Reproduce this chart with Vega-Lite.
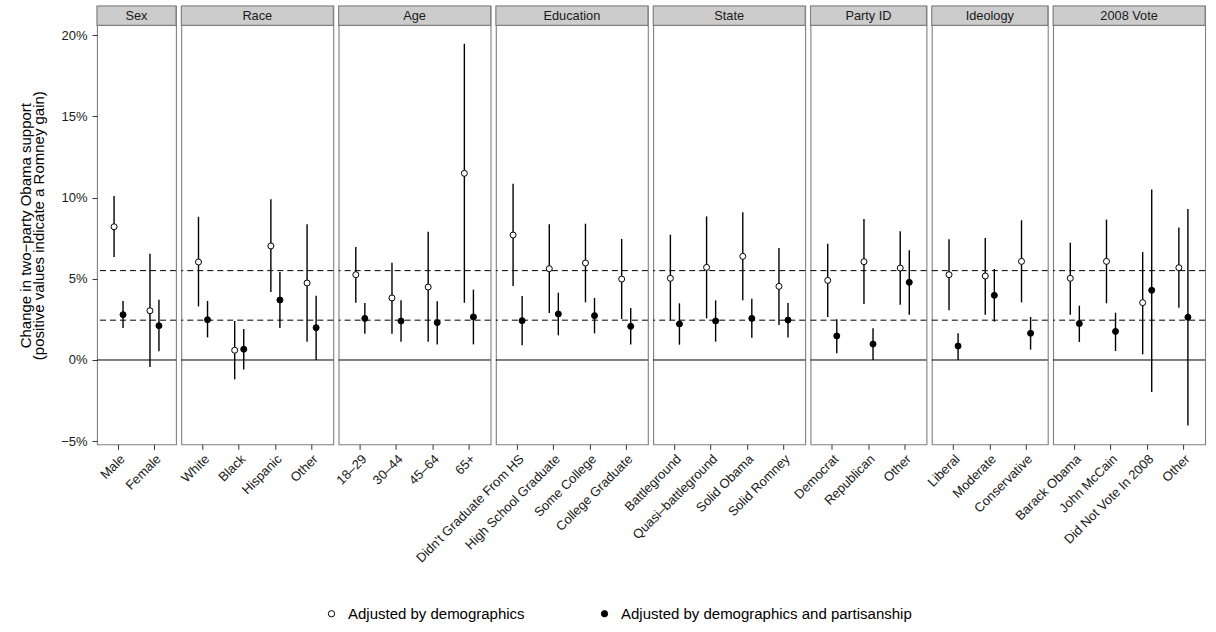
{
  "$schema": "https://vega.github.io/schema/vega-lite/v6.json",
  "background": "white",
  "padding": {"left": 17, "top": 4, "right": 5, "bottom": 5},
  "config": {
    "font": "Liberation Sans",
    "view": {"stroke": "#7f7f7f", "strokeWidth": 1.1},
    "rule": {"color": "black"},
    "point": {"shape": "circle", "filled": true, "size": 36, "stroke": "black", "strokeWidth": 1, "opacity": 1},
    "text": {"fontSize": 12.8, "color": "#1a1a1a"},
    "axis": {"grid": false, "domain": false, "tickColor": "#333333", "tickSize": 5, "tickWidth": 1, "labelColor": "#1a1a1a", "labelFontSize": 13, "labelPadding": 5, "titleFontSize": 15, "titleFontWeight": "normal", "titleColor": "black"},
    "axisX": {"labelAngle": -45, "labelAlign": "right", "labelBaseline": "top", "labelLimit": 0, "labelPadding": 3},
    "legend": {"labelFontSize": 15, "labelColor": "black", "labelLimit": 0}
  },
  "datasets": {
    "d": [
      {"p": "Sex", "c": "Male", "t": "Adjusted by demographics", "e": 8.2, "lo": 6.34, "hi": 10.09},
      {"p": "Sex", "c": "Male", "t": "Adjusted by demographics and partisanship", "e": 2.79, "lo": 1.97, "hi": 3.63},
      {"p": "Sex", "c": "Female", "t": "Adjusted by demographics", "e": 3.03, "lo": -0.43, "hi": 6.54},
      {"p": "Sex", "c": "Female", "t": "Adjusted by demographics and partisanship", "e": 2.11, "lo": 0.53, "hi": 3.71},
      {"p": "Race", "c": "White", "t": "Adjusted by demographics", "e": 6.03, "lo": 3.3, "hi": 8.82},
      {"p": "Race", "c": "White", "t": "Adjusted by demographics and partisanship", "e": 2.48, "lo": 1.39, "hi": 3.63},
      {"p": "Race", "c": "Black", "t": "Adjusted by demographics", "e": 0.6, "lo": -1.19, "hi": 2.4},
      {"p": "Race", "c": "Black", "t": "Adjusted by demographics and partisanship", "e": 0.66, "lo": -0.59, "hi": 1.91},
      {"p": "Race", "c": "Hispanic", "t": "Adjusted by demographics", "e": 7.02, "lo": 4.18, "hi": 9.9},
      {"p": "Race", "c": "Hispanic", "t": "Adjusted by demographics and partisanship", "e": 3.69, "lo": 1.97, "hi": 5.42},
      {"p": "Race", "c": "Other", "t": "Adjusted by demographics", "e": 4.74, "lo": 1.13, "hi": 8.35},
      {"p": "Race", "c": "Other", "t": "Adjusted by demographics and partisanship", "e": 1.99, "lo": 0.0, "hi": 3.96},
      {"p": "Age", "c": "18–29", "t": "Adjusted by demographics", "e": 5.25, "lo": 3.53, "hi": 6.95},
      {"p": "Age", "c": "18–29", "t": "Adjusted by demographics and partisanship", "e": 2.56, "lo": 1.62, "hi": 3.51},
      {"p": "Age", "c": "30–44", "t": "Adjusted by demographics", "e": 3.82, "lo": 1.62, "hi": 5.99},
      {"p": "Age", "c": "30–44", "t": "Adjusted by demographics and partisanship", "e": 2.4, "lo": 1.13, "hi": 3.67},
      {"p": "Age", "c": "45–64", "t": "Adjusted by demographics", "e": 4.49, "lo": 1.13, "hi": 7.9},
      {"p": "Age", "c": "45–64", "t": "Adjusted by demographics and partisanship", "e": 2.3, "lo": 0.96, "hi": 3.61},
      {"p": "Age", "c": "65+", "t": "Adjusted by demographics", "e": 11.49, "lo": 3.53, "hi": 19.46},
      {"p": "Age", "c": "65+", "t": "Adjusted by demographics and partisanship", "e": 2.65, "lo": 0.96, "hi": 4.33},
      {"p": "Education", "c": "Didn't Graduate From HS", "t": "Adjusted by demographics", "e": 7.69, "lo": 4.55, "hi": 10.85},
      {"p": "Education", "c": "Didn't Graduate From HS", "t": "Adjusted by demographics and partisanship", "e": 2.42, "lo": 0.9, "hi": 3.94},
      {"p": "Education", "c": "High School Graduate", "t": "Adjusted by demographics", "e": 5.62, "lo": 2.89, "hi": 8.35},
      {"p": "Education", "c": "High School Graduate", "t": "Adjusted by demographics and partisanship", "e": 2.83, "lo": 1.52, "hi": 4.14},
      {"p": "Education", "c": "Some College", "t": "Adjusted by demographics", "e": 5.97, "lo": 3.55, "hi": 8.39},
      {"p": "Education", "c": "Some College", "t": "Adjusted by demographics and partisanship", "e": 2.73, "lo": 1.64, "hi": 3.82},
      {"p": "Education", "c": "College Graduate", "t": "Adjusted by demographics", "e": 4.98, "lo": 2.52, "hi": 7.45},
      {"p": "Education", "c": "College Graduate", "t": "Adjusted by demographics and partisanship", "e": 2.07, "lo": 0.96, "hi": 3.2},
      {"p": "State", "c": "Battleground", "t": "Adjusted by demographics", "e": 5.03, "lo": 2.44, "hi": 7.71},
      {"p": "State", "c": "Battleground", "t": "Adjusted by demographics and partisanship", "e": 2.22, "lo": 0.94, "hi": 3.49},
      {"p": "State", "c": "Quasi–battleground", "t": "Adjusted by demographics", "e": 5.7, "lo": 2.56, "hi": 8.84},
      {"p": "State", "c": "Quasi–battleground", "t": "Adjusted by demographics and partisanship", "e": 2.4, "lo": 1.13, "hi": 3.67},
      {"p": "State", "c": "Solid Obama", "t": "Adjusted by demographics", "e": 6.38, "lo": 3.67, "hi": 9.09},
      {"p": "State", "c": "Solid Obama", "t": "Adjusted by demographics and partisanship", "e": 2.56, "lo": 1.37, "hi": 3.77},
      {"p": "State", "c": "Solid Romney", "t": "Adjusted by demographics", "e": 4.53, "lo": 2.15, "hi": 6.89},
      {"p": "State", "c": "Solid Romney", "t": "Adjusted by demographics and partisanship", "e": 2.46, "lo": 1.39, "hi": 3.51},
      {"p": "Party ID", "c": "Democrat", "t": "Adjusted by demographics", "e": 4.9, "lo": 2.65, "hi": 7.16},
      {"p": "Party ID", "c": "Democrat", "t": "Adjusted by demographics and partisanship", "e": 1.48, "lo": 0.41, "hi": 2.5},
      {"p": "Party ID", "c": "Republican", "t": "Adjusted by demographics", "e": 6.05, "lo": 3.45, "hi": 8.68},
      {"p": "Party ID", "c": "Republican", "t": "Adjusted by demographics and partisanship", "e": 0.98, "lo": 0.0, "hi": 1.95},
      {"p": "Party ID", "c": "Other", "t": "Adjusted by demographics", "e": 5.66, "lo": 3.4, "hi": 7.92},
      {"p": "Party ID", "c": "Other", "t": "Adjusted by demographics and partisanship", "e": 4.78, "lo": 2.79, "hi": 6.75},
      {"p": "Ideology", "c": "Liberal", "t": "Adjusted by demographics", "e": 5.25, "lo": 3.06, "hi": 7.43},
      {"p": "Ideology", "c": "Liberal", "t": "Adjusted by demographics and partisanship", "e": 0.86, "lo": 0.0, "hi": 1.64},
      {"p": "Ideology", "c": "Moderate", "t": "Adjusted by demographics", "e": 5.17, "lo": 2.79, "hi": 7.51},
      {"p": "Ideology", "c": "Moderate", "t": "Adjusted by demographics and partisanship", "e": 3.98, "lo": 2.36, "hi": 5.6},
      {"p": "Ideology", "c": "Conservative", "t": "Adjusted by demographics", "e": 6.07, "lo": 3.55, "hi": 8.6},
      {"p": "Ideology", "c": "Conservative", "t": "Adjusted by demographics and partisanship", "e": 1.64, "lo": 0.64, "hi": 2.65},
      {"p": "2008 Vote", "c": "Barack Obama", "t": "Adjusted by demographics", "e": 5.03, "lo": 2.79, "hi": 7.22},
      {"p": "2008 Vote", "c": "Barack Obama", "t": "Adjusted by demographics and partisanship", "e": 2.24, "lo": 1.11, "hi": 3.34},
      {"p": "2008 Vote", "c": "John McCain", "t": "Adjusted by demographics", "e": 6.07, "lo": 3.49, "hi": 8.64},
      {"p": "2008 Vote", "c": "John McCain", "t": "Adjusted by demographics and partisanship", "e": 1.76, "lo": 0.55, "hi": 2.91},
      {"p": "2008 Vote", "c": "Did Not Vote In 2008", "t": "Adjusted by demographics", "e": 3.53, "lo": 0.35, "hi": 6.65},
      {"p": "2008 Vote", "c": "Did Not Vote In 2008", "t": "Adjusted by demographics and partisanship", "e": 4.29, "lo": -1.97, "hi": 10.5},
      {"p": "2008 Vote", "c": "Other", "t": "Adjusted by demographics", "e": 5.68, "lo": 3.22, "hi": 8.16},
      {"p": "2008 Vote", "c": "Other", "t": "Adjusted by demographics and partisanship", "e": 2.63, "lo": -4.04, "hi": 9.29}
    ]
  },
  "bounds": "flush",
  "spacing": 5.3,
  "resolve": {"scale": {"x": "independent", "xOffset": "independent", "y": "independent", "fill": "shared"}, "legend": {"fill": "shared"}},
  "hconcat": [
    {"width": 79, "height": 438.3, "layer": [
      {"data": {"values": [{}]}, "mark": {"type": "rect", "fill": "#cccccc", "stroke": "#7f7f7f", "strokeWidth": 1.1}, "encoding": {"y": {"datum": 20.6, "type": "quantitative", "scale": {"domain": [-5.19, 21.79], "nice": false, "zero": false}, "axis": {"values": [-5, 0, 5, 10, 15, 20], "labelExpr": "(datum.value < 0 ? '−' + abs(datum.value) : datum.value) + '%'", "title": ["Change in two−party Obama support", "(positive values indicate a Romney gain)"], "titleLineHeight": 13.5, "titlePadding": 14}}, "y2": {"datum": 21.79}}},
      {"data": {"values": [{}]}, "mark": {"type": "text"}, "encoding": {"y": {"datum": 21.195, "type": "quantitative", "scale": {"domain": [-5.19, 21.79], "nice": false, "zero": false}, "axis": {"values": [-5, 0, 5, 10, 15, 20], "labelExpr": "(datum.value < 0 ? '−' + abs(datum.value) : datum.value) + '%'", "title": ["Change in two−party Obama support", "(positive values indicate a Romney gain)"], "titleLineHeight": 13.5, "titlePadding": 14}}, "text": {"value": "Sex"}}},
      {"data": {"values": [{}]}, "mark": {"type": "rule", "strokeWidth": 1}, "encoding": {"y": {"datum": 0, "type": "quantitative", "scale": {"domain": [-5.19, 21.79], "nice": false, "zero": false}, "axis": {"values": [-5, 0, 5, 10, 15, 20], "labelExpr": "(datum.value < 0 ? '−' + abs(datum.value) : datum.value) + '%'", "title": ["Change in two−party Obama support", "(positive values indicate a Romney gain)"], "titleLineHeight": 13.5, "titlePadding": 14}}}},
      {"data": {"values": [{}]}, "mark": {"type": "rule", "strokeWidth": 1, "strokeDash": [6, 4]}, "encoding": {"y": {"datum": 5.5, "type": "quantitative", "scale": {"domain": [-5.19, 21.79], "nice": false, "zero": false}, "axis": {"values": [-5, 0, 5, 10, 15, 20], "labelExpr": "(datum.value < 0 ? '−' + abs(datum.value) : datum.value) + '%'", "title": ["Change in two−party Obama support", "(positive values indicate a Romney gain)"], "titleLineHeight": 13.5, "titlePadding": 14}}}},
      {"data": {"values": [{}]}, "mark": {"type": "rule", "strokeWidth": 1, "strokeDash": [6, 4]}, "encoding": {"y": {"datum": 2.45, "type": "quantitative", "scale": {"domain": [-5.19, 21.79], "nice": false, "zero": false}, "axis": {"values": [-5, 0, 5, 10, 15, 20], "labelExpr": "(datum.value < 0 ? '−' + abs(datum.value) : datum.value) + '%'", "title": ["Change in two−party Obama support", "(positive values indicate a Romney gain)"], "titleLineHeight": 13.5, "titlePadding": 14}}}},
      {"data": {"name": "d"}, "transform": [{"filter": "datum.p === 'Sex'"}], "mark": {"type": "rule", "strokeWidth": 1.4},
       "encoding": {
         "x": {"field": "c", "type": "nominal", "sort": ["Male", "Female"], "scale": {"paddingInner": 0, "paddingOuter": 0.1}, "axis": {"title": null}},
         "xOffset": {"field": "t", "type": "nominal", "scale": {"paddingInner": 0, "paddingOuter": 1.03}},
         "y": {"field": "lo", "type": "quantitative", "scale": {"domain": [-5.19, 21.79], "nice": false, "zero": false}, "axis": {"values": [-5, 0, 5, 10, 15, 20], "labelExpr": "(datum.value < 0 ? '−' + abs(datum.value) : datum.value) + '%'", "title": ["Change in two−party Obama support", "(positive values indicate a Romney gain)"], "titleLineHeight": 13.5, "titlePadding": 14}},
         "y2": {"field": "hi"}}},
      {"data": {"name": "d"}, "transform": [{"filter": "datum.p === 'Sex'"}], "mark": {"type": "point"},
       "encoding": {
         "x": {"field": "c", "type": "nominal", "sort": ["Male", "Female"], "scale": {"paddingInner": 0, "paddingOuter": 0.1}, "axis": {"title": null}},
         "xOffset": {"field": "t", "type": "nominal", "scale": {"paddingInner": 0, "paddingOuter": 1.03}},
         "y": {"field": "e", "type": "quantitative", "scale": {"domain": [-5.19, 21.79], "nice": false, "zero": false}, "axis": {"values": [-5, 0, 5, 10, 15, 20], "labelExpr": "(datum.value < 0 ? '−' + abs(datum.value) : datum.value) + '%'", "title": ["Change in two−party Obama support", "(positive values indicate a Romney gain)"], "titleLineHeight": 13.5, "titlePadding": 14}},
         "fill": {"field": "t", "type": "nominal", "scale": {"domain": ["Adjusted by demographics", "Adjusted by demographics and partisanship"], "range": ["white", "black"]}, "legend": {"title": null, "orient": "none", "legendX": 227, "legendY": 600, "direction": "horizontal", "symbolType": "circle", "symbolSize": 40, "symbolStrokeColor": "black", "symbolStrokeWidth": 1, "columnPadding": 72, "labelOffset": 9}}}}
    ]},
    {"width": 152, "height": 438.3, "layer": [
      {"data": {"values": [{}]}, "mark": {"type": "rect", "fill": "#cccccc", "stroke": "#7f7f7f", "strokeWidth": 1.1}, "encoding": {"y": {"datum": 20.6, "type": "quantitative", "scale": {"domain": [-5.19, 21.79], "nice": false, "zero": false}, "axis": null}, "y2": {"datum": 21.79}}},
      {"data": {"values": [{}]}, "mark": {"type": "text"}, "encoding": {"y": {"datum": 21.195, "type": "quantitative", "scale": {"domain": [-5.19, 21.79], "nice": false, "zero": false}, "axis": null}, "text": {"value": "Race"}}},
      {"data": {"values": [{}]}, "mark": {"type": "rule", "strokeWidth": 1}, "encoding": {"y": {"datum": 0, "type": "quantitative", "scale": {"domain": [-5.19, 21.79], "nice": false, "zero": false}, "axis": null}}},
      {"data": {"values": [{}]}, "mark": {"type": "rule", "strokeWidth": 1, "strokeDash": [6, 4]}, "encoding": {"y": {"datum": 5.5, "type": "quantitative", "scale": {"domain": [-5.19, 21.79], "nice": false, "zero": false}, "axis": null}}},
      {"data": {"values": [{}]}, "mark": {"type": "rule", "strokeWidth": 1, "strokeDash": [6, 4]}, "encoding": {"y": {"datum": 2.45, "type": "quantitative", "scale": {"domain": [-5.19, 21.79], "nice": false, "zero": false}, "axis": null}}},
      {"data": {"name": "d"}, "transform": [{"filter": "datum.p === 'Race'"}], "mark": {"type": "rule", "strokeWidth": 1.4},
       "encoding": {
         "x": {"field": "c", "type": "nominal", "sort": ["White", "Black", "Hispanic", "Other"], "scale": {"paddingInner": 0, "paddingOuter": 0.1}, "axis": {"title": null}},
         "xOffset": {"field": "t", "type": "nominal", "scale": {"paddingInner": 0, "paddingOuter": 1.03}},
         "y": {"field": "lo", "type": "quantitative", "scale": {"domain": [-5.19, 21.79], "nice": false, "zero": false}, "axis": null},
         "y2": {"field": "hi"}}},
      {"data": {"name": "d"}, "transform": [{"filter": "datum.p === 'Race'"}], "mark": {"type": "point"},
       "encoding": {
         "x": {"field": "c", "type": "nominal", "sort": ["White", "Black", "Hispanic", "Other"], "scale": {"paddingInner": 0, "paddingOuter": 0.1}, "axis": {"title": null}},
         "xOffset": {"field": "t", "type": "nominal", "scale": {"paddingInner": 0, "paddingOuter": 1.03}},
         "y": {"field": "e", "type": "quantitative", "scale": {"domain": [-5.19, 21.79], "nice": false, "zero": false}, "axis": null},
         "fill": {"field": "t", "type": "nominal", "scale": {"domain": ["Adjusted by demographics", "Adjusted by demographics and partisanship"], "range": ["white", "black"]}, "legend": {"title": null, "orient": "none", "legendX": 227, "legendY": 600, "direction": "horizontal", "symbolType": "circle", "symbolSize": 40, "symbolStrokeColor": "black", "symbolStrokeWidth": 1, "columnPadding": 72, "labelOffset": 9}}}}
    ]},
    {"width": 152, "height": 438.3, "layer": [
      {"data": {"values": [{}]}, "mark": {"type": "rect", "fill": "#cccccc", "stroke": "#7f7f7f", "strokeWidth": 1.1}, "encoding": {"y": {"datum": 20.6, "type": "quantitative", "scale": {"domain": [-5.19, 21.79], "nice": false, "zero": false}, "axis": null}, "y2": {"datum": 21.79}}},
      {"data": {"values": [{}]}, "mark": {"type": "text"}, "encoding": {"y": {"datum": 21.195, "type": "quantitative", "scale": {"domain": [-5.19, 21.79], "nice": false, "zero": false}, "axis": null}, "text": {"value": "Age"}}},
      {"data": {"values": [{}]}, "mark": {"type": "rule", "strokeWidth": 1}, "encoding": {"y": {"datum": 0, "type": "quantitative", "scale": {"domain": [-5.19, 21.79], "nice": false, "zero": false}, "axis": null}}},
      {"data": {"values": [{}]}, "mark": {"type": "rule", "strokeWidth": 1, "strokeDash": [6, 4]}, "encoding": {"y": {"datum": 5.5, "type": "quantitative", "scale": {"domain": [-5.19, 21.79], "nice": false, "zero": false}, "axis": null}}},
      {"data": {"values": [{}]}, "mark": {"type": "rule", "strokeWidth": 1, "strokeDash": [6, 4]}, "encoding": {"y": {"datum": 2.45, "type": "quantitative", "scale": {"domain": [-5.19, 21.79], "nice": false, "zero": false}, "axis": null}}},
      {"data": {"name": "d"}, "transform": [{"filter": "datum.p === 'Age'"}], "mark": {"type": "rule", "strokeWidth": 1.4},
       "encoding": {
         "x": {"field": "c", "type": "nominal", "sort": ["18–29", "30–44", "45–64", "65+"], "scale": {"paddingInner": 0, "paddingOuter": 0.1}, "axis": {"title": null}},
         "xOffset": {"field": "t", "type": "nominal", "scale": {"paddingInner": 0, "paddingOuter": 1.03}},
         "y": {"field": "lo", "type": "quantitative", "scale": {"domain": [-5.19, 21.79], "nice": false, "zero": false}, "axis": null},
         "y2": {"field": "hi"}}},
      {"data": {"name": "d"}, "transform": [{"filter": "datum.p === 'Age'"}], "mark": {"type": "point"},
       "encoding": {
         "x": {"field": "c", "type": "nominal", "sort": ["18–29", "30–44", "45–64", "65+"], "scale": {"paddingInner": 0, "paddingOuter": 0.1}, "axis": {"title": null}},
         "xOffset": {"field": "t", "type": "nominal", "scale": {"paddingInner": 0, "paddingOuter": 1.03}},
         "y": {"field": "e", "type": "quantitative", "scale": {"domain": [-5.19, 21.79], "nice": false, "zero": false}, "axis": null},
         "fill": {"field": "t", "type": "nominal", "scale": {"domain": ["Adjusted by demographics", "Adjusted by demographics and partisanship"], "range": ["white", "black"]}, "legend": {"title": null, "orient": "none", "legendX": 227, "legendY": 600, "direction": "horizontal", "symbolType": "circle", "symbolSize": 40, "symbolStrokeColor": "black", "symbolStrokeWidth": 1, "columnPadding": 72, "labelOffset": 9}}}}
    ]},
    {"width": 152, "height": 438.3, "layer": [
      {"data": {"values": [{}]}, "mark": {"type": "rect", "fill": "#cccccc", "stroke": "#7f7f7f", "strokeWidth": 1.1}, "encoding": {"y": {"datum": 20.6, "type": "quantitative", "scale": {"domain": [-5.19, 21.79], "nice": false, "zero": false}, "axis": null}, "y2": {"datum": 21.79}}},
      {"data": {"values": [{}]}, "mark": {"type": "text"}, "encoding": {"y": {"datum": 21.195, "type": "quantitative", "scale": {"domain": [-5.19, 21.79], "nice": false, "zero": false}, "axis": null}, "text": {"value": "Education"}}},
      {"data": {"values": [{}]}, "mark": {"type": "rule", "strokeWidth": 1}, "encoding": {"y": {"datum": 0, "type": "quantitative", "scale": {"domain": [-5.19, 21.79], "nice": false, "zero": false}, "axis": null}}},
      {"data": {"values": [{}]}, "mark": {"type": "rule", "strokeWidth": 1, "strokeDash": [6, 4]}, "encoding": {"y": {"datum": 5.5, "type": "quantitative", "scale": {"domain": [-5.19, 21.79], "nice": false, "zero": false}, "axis": null}}},
      {"data": {"values": [{}]}, "mark": {"type": "rule", "strokeWidth": 1, "strokeDash": [6, 4]}, "encoding": {"y": {"datum": 2.45, "type": "quantitative", "scale": {"domain": [-5.19, 21.79], "nice": false, "zero": false}, "axis": null}}},
      {"data": {"name": "d"}, "transform": [{"filter": "datum.p === 'Education'"}], "mark": {"type": "rule", "strokeWidth": 1.4},
       "encoding": {
         "x": {"field": "c", "type": "nominal", "sort": ["Didn't Graduate From HS", "High School Graduate", "Some College", "College Graduate"], "scale": {"paddingInner": 0, "paddingOuter": 0.1}, "axis": {"title": null}},
         "xOffset": {"field": "t", "type": "nominal", "scale": {"paddingInner": 0, "paddingOuter": 1.03}},
         "y": {"field": "lo", "type": "quantitative", "scale": {"domain": [-5.19, 21.79], "nice": false, "zero": false}, "axis": null},
         "y2": {"field": "hi"}}},
      {"data": {"name": "d"}, "transform": [{"filter": "datum.p === 'Education'"}], "mark": {"type": "point"},
       "encoding": {
         "x": {"field": "c", "type": "nominal", "sort": ["Didn't Graduate From HS", "High School Graduate", "Some College", "College Graduate"], "scale": {"paddingInner": 0, "paddingOuter": 0.1}, "axis": {"title": null}},
         "xOffset": {"field": "t", "type": "nominal", "scale": {"paddingInner": 0, "paddingOuter": 1.03}},
         "y": {"field": "e", "type": "quantitative", "scale": {"domain": [-5.19, 21.79], "nice": false, "zero": false}, "axis": null},
         "fill": {"field": "t", "type": "nominal", "scale": {"domain": ["Adjusted by demographics", "Adjusted by demographics and partisanship"], "range": ["white", "black"]}, "legend": {"title": null, "orient": "none", "legendX": 227, "legendY": 600, "direction": "horizontal", "symbolType": "circle", "symbolSize": 40, "symbolStrokeColor": "black", "symbolStrokeWidth": 1, "columnPadding": 72, "labelOffset": 9}}}}
    ]},
    {"width": 152, "height": 438.3, "layer": [
      {"data": {"values": [{}]}, "mark": {"type": "rect", "fill": "#cccccc", "stroke": "#7f7f7f", "strokeWidth": 1.1}, "encoding": {"y": {"datum": 20.6, "type": "quantitative", "scale": {"domain": [-5.19, 21.79], "nice": false, "zero": false}, "axis": null}, "y2": {"datum": 21.79}}},
      {"data": {"values": [{}]}, "mark": {"type": "text"}, "encoding": {"y": {"datum": 21.195, "type": "quantitative", "scale": {"domain": [-5.19, 21.79], "nice": false, "zero": false}, "axis": null}, "text": {"value": "State"}}},
      {"data": {"values": [{}]}, "mark": {"type": "rule", "strokeWidth": 1}, "encoding": {"y": {"datum": 0, "type": "quantitative", "scale": {"domain": [-5.19, 21.79], "nice": false, "zero": false}, "axis": null}}},
      {"data": {"values": [{}]}, "mark": {"type": "rule", "strokeWidth": 1, "strokeDash": [6, 4]}, "encoding": {"y": {"datum": 5.5, "type": "quantitative", "scale": {"domain": [-5.19, 21.79], "nice": false, "zero": false}, "axis": null}}},
      {"data": {"values": [{}]}, "mark": {"type": "rule", "strokeWidth": 1, "strokeDash": [6, 4]}, "encoding": {"y": {"datum": 2.45, "type": "quantitative", "scale": {"domain": [-5.19, 21.79], "nice": false, "zero": false}, "axis": null}}},
      {"data": {"name": "d"}, "transform": [{"filter": "datum.p === 'State'"}], "mark": {"type": "rule", "strokeWidth": 1.4},
       "encoding": {
         "x": {"field": "c", "type": "nominal", "sort": ["Battleground", "Quasi–battleground", "Solid Obama", "Solid Romney"], "scale": {"paddingInner": 0, "paddingOuter": 0.1}, "axis": {"title": null}},
         "xOffset": {"field": "t", "type": "nominal", "scale": {"paddingInner": 0, "paddingOuter": 1.03}},
         "y": {"field": "lo", "type": "quantitative", "scale": {"domain": [-5.19, 21.79], "nice": false, "zero": false}, "axis": null},
         "y2": {"field": "hi"}}},
      {"data": {"name": "d"}, "transform": [{"filter": "datum.p === 'State'"}], "mark": {"type": "point"},
       "encoding": {
         "x": {"field": "c", "type": "nominal", "sort": ["Battleground", "Quasi–battleground", "Solid Obama", "Solid Romney"], "scale": {"paddingInner": 0, "paddingOuter": 0.1}, "axis": {"title": null}},
         "xOffset": {"field": "t", "type": "nominal", "scale": {"paddingInner": 0, "paddingOuter": 1.03}},
         "y": {"field": "e", "type": "quantitative", "scale": {"domain": [-5.19, 21.79], "nice": false, "zero": false}, "axis": null},
         "fill": {"field": "t", "type": "nominal", "scale": {"domain": ["Adjusted by demographics", "Adjusted by demographics and partisanship"], "range": ["white", "black"]}, "legend": {"title": null, "orient": "none", "legendX": 227, "legendY": 600, "direction": "horizontal", "symbolType": "circle", "symbolSize": 40, "symbolStrokeColor": "black", "symbolStrokeWidth": 1, "columnPadding": 72, "labelOffset": 9}}}}
    ]},
    {"width": 116, "height": 438.3, "layer": [
      {"data": {"values": [{}]}, "mark": {"type": "rect", "fill": "#cccccc", "stroke": "#7f7f7f", "strokeWidth": 1.1}, "encoding": {"y": {"datum": 20.6, "type": "quantitative", "scale": {"domain": [-5.19, 21.79], "nice": false, "zero": false}, "axis": null}, "y2": {"datum": 21.79}}},
      {"data": {"values": [{}]}, "mark": {"type": "text"}, "encoding": {"y": {"datum": 21.195, "type": "quantitative", "scale": {"domain": [-5.19, 21.79], "nice": false, "zero": false}, "axis": null}, "text": {"value": "Party ID"}}},
      {"data": {"values": [{}]}, "mark": {"type": "rule", "strokeWidth": 1}, "encoding": {"y": {"datum": 0, "type": "quantitative", "scale": {"domain": [-5.19, 21.79], "nice": false, "zero": false}, "axis": null}}},
      {"data": {"values": [{}]}, "mark": {"type": "rule", "strokeWidth": 1, "strokeDash": [6, 4]}, "encoding": {"y": {"datum": 5.5, "type": "quantitative", "scale": {"domain": [-5.19, 21.79], "nice": false, "zero": false}, "axis": null}}},
      {"data": {"values": [{}]}, "mark": {"type": "rule", "strokeWidth": 1, "strokeDash": [6, 4]}, "encoding": {"y": {"datum": 2.45, "type": "quantitative", "scale": {"domain": [-5.19, 21.79], "nice": false, "zero": false}, "axis": null}}},
      {"data": {"name": "d"}, "transform": [{"filter": "datum.p === 'Party ID'"}], "mark": {"type": "rule", "strokeWidth": 1.4},
       "encoding": {
         "x": {"field": "c", "type": "nominal", "sort": ["Democrat", "Republican", "Other"], "scale": {"paddingInner": 0, "paddingOuter": 0.1}, "axis": {"title": null}},
         "xOffset": {"field": "t", "type": "nominal", "scale": {"paddingInner": 0, "paddingOuter": 1.03}},
         "y": {"field": "lo", "type": "quantitative", "scale": {"domain": [-5.19, 21.79], "nice": false, "zero": false}, "axis": null},
         "y2": {"field": "hi"}}},
      {"data": {"name": "d"}, "transform": [{"filter": "datum.p === 'Party ID'"}], "mark": {"type": "point"},
       "encoding": {
         "x": {"field": "c", "type": "nominal", "sort": ["Democrat", "Republican", "Other"], "scale": {"paddingInner": 0, "paddingOuter": 0.1}, "axis": {"title": null}},
         "xOffset": {"field": "t", "type": "nominal", "scale": {"paddingInner": 0, "paddingOuter": 1.03}},
         "y": {"field": "e", "type": "quantitative", "scale": {"domain": [-5.19, 21.79], "nice": false, "zero": false}, "axis": null},
         "fill": {"field": "t", "type": "nominal", "scale": {"domain": ["Adjusted by demographics", "Adjusted by demographics and partisanship"], "range": ["white", "black"]}, "legend": {"title": null, "orient": "none", "legendX": 227, "legendY": 600, "direction": "horizontal", "symbolType": "circle", "symbolSize": 40, "symbolStrokeColor": "black", "symbolStrokeWidth": 1, "columnPadding": 72, "labelOffset": 9}}}}
    ]},
    {"width": 116, "height": 438.3, "layer": [
      {"data": {"values": [{}]}, "mark": {"type": "rect", "fill": "#cccccc", "stroke": "#7f7f7f", "strokeWidth": 1.1}, "encoding": {"y": {"datum": 20.6, "type": "quantitative", "scale": {"domain": [-5.19, 21.79], "nice": false, "zero": false}, "axis": null}, "y2": {"datum": 21.79}}},
      {"data": {"values": [{}]}, "mark": {"type": "text"}, "encoding": {"y": {"datum": 21.195, "type": "quantitative", "scale": {"domain": [-5.19, 21.79], "nice": false, "zero": false}, "axis": null}, "text": {"value": "Ideology"}}},
      {"data": {"values": [{}]}, "mark": {"type": "rule", "strokeWidth": 1}, "encoding": {"y": {"datum": 0, "type": "quantitative", "scale": {"domain": [-5.19, 21.79], "nice": false, "zero": false}, "axis": null}}},
      {"data": {"values": [{}]}, "mark": {"type": "rule", "strokeWidth": 1, "strokeDash": [6, 4]}, "encoding": {"y": {"datum": 5.5, "type": "quantitative", "scale": {"domain": [-5.19, 21.79], "nice": false, "zero": false}, "axis": null}}},
      {"data": {"values": [{}]}, "mark": {"type": "rule", "strokeWidth": 1, "strokeDash": [6, 4]}, "encoding": {"y": {"datum": 2.45, "type": "quantitative", "scale": {"domain": [-5.19, 21.79], "nice": false, "zero": false}, "axis": null}}},
      {"data": {"name": "d"}, "transform": [{"filter": "datum.p === 'Ideology'"}], "mark": {"type": "rule", "strokeWidth": 1.4},
       "encoding": {
         "x": {"field": "c", "type": "nominal", "sort": ["Liberal", "Moderate", "Conservative"], "scale": {"paddingInner": 0, "paddingOuter": 0.1}, "axis": {"title": null}},
         "xOffset": {"field": "t", "type": "nominal", "scale": {"paddingInner": 0, "paddingOuter": 1.03}},
         "y": {"field": "lo", "type": "quantitative", "scale": {"domain": [-5.19, 21.79], "nice": false, "zero": false}, "axis": null},
         "y2": {"field": "hi"}}},
      {"data": {"name": "d"}, "transform": [{"filter": "datum.p === 'Ideology'"}], "mark": {"type": "point"},
       "encoding": {
         "x": {"field": "c", "type": "nominal", "sort": ["Liberal", "Moderate", "Conservative"], "scale": {"paddingInner": 0, "paddingOuter": 0.1}, "axis": {"title": null}},
         "xOffset": {"field": "t", "type": "nominal", "scale": {"paddingInner": 0, "paddingOuter": 1.03}},
         "y": {"field": "e", "type": "quantitative", "scale": {"domain": [-5.19, 21.79], "nice": false, "zero": false}, "axis": null},
         "fill": {"field": "t", "type": "nominal", "scale": {"domain": ["Adjusted by demographics", "Adjusted by demographics and partisanship"], "range": ["white", "black"]}, "legend": {"title": null, "orient": "none", "legendX": 227, "legendY": 600, "direction": "horizontal", "symbolType": "circle", "symbolSize": 40, "symbolStrokeColor": "black", "symbolStrokeWidth": 1, "columnPadding": 72, "labelOffset": 9}}}}
    ]},
    {"width": 152, "height": 438.3, "layer": [
      {"data": {"values": [{}]}, "mark": {"type": "rect", "fill": "#cccccc", "stroke": "#7f7f7f", "strokeWidth": 1.1}, "encoding": {"y": {"datum": 20.6, "type": "quantitative", "scale": {"domain": [-5.19, 21.79], "nice": false, "zero": false}, "axis": null}, "y2": {"datum": 21.79}}},
      {"data": {"values": [{}]}, "mark": {"type": "text"}, "encoding": {"y": {"datum": 21.195, "type": "quantitative", "scale": {"domain": [-5.19, 21.79], "nice": false, "zero": false}, "axis": null}, "text": {"value": "2008 Vote"}}},
      {"data": {"values": [{}]}, "mark": {"type": "rule", "strokeWidth": 1}, "encoding": {"y": {"datum": 0, "type": "quantitative", "scale": {"domain": [-5.19, 21.79], "nice": false, "zero": false}, "axis": null}}},
      {"data": {"values": [{}]}, "mark": {"type": "rule", "strokeWidth": 1, "strokeDash": [6, 4]}, "encoding": {"y": {"datum": 5.5, "type": "quantitative", "scale": {"domain": [-5.19, 21.79], "nice": false, "zero": false}, "axis": null}}},
      {"data": {"values": [{}]}, "mark": {"type": "rule", "strokeWidth": 1, "strokeDash": [6, 4]}, "encoding": {"y": {"datum": 2.45, "type": "quantitative", "scale": {"domain": [-5.19, 21.79], "nice": false, "zero": false}, "axis": null}}},
      {"data": {"name": "d"}, "transform": [{"filter": "datum.p === '2008 Vote'"}], "mark": {"type": "rule", "strokeWidth": 1.4},
       "encoding": {
         "x": {"field": "c", "type": "nominal", "sort": ["Barack Obama", "John McCain", "Did Not Vote In 2008", "Other"], "scale": {"paddingInner": 0, "paddingOuter": 0.1}, "axis": {"title": null}},
         "xOffset": {"field": "t", "type": "nominal", "scale": {"paddingInner": 0, "paddingOuter": 1.03}},
         "y": {"field": "lo", "type": "quantitative", "scale": {"domain": [-5.19, 21.79], "nice": false, "zero": false}, "axis": null},
         "y2": {"field": "hi"}}},
      {"data": {"name": "d"}, "transform": [{"filter": "datum.p === '2008 Vote'"}], "mark": {"type": "point"},
       "encoding": {
         "x": {"field": "c", "type": "nominal", "sort": ["Barack Obama", "John McCain", "Did Not Vote In 2008", "Other"], "scale": {"paddingInner": 0, "paddingOuter": 0.1}, "axis": {"title": null}},
         "xOffset": {"field": "t", "type": "nominal", "scale": {"paddingInner": 0, "paddingOuter": 1.03}},
         "y": {"field": "e", "type": "quantitative", "scale": {"domain": [-5.19, 21.79], "nice": false, "zero": false}, "axis": null},
         "fill": {"field": "t", "type": "nominal", "scale": {"domain": ["Adjusted by demographics", "Adjusted by demographics and partisanship"], "range": ["white", "black"]}, "legend": {"title": null, "orient": "none", "legendX": 227, "legendY": 600, "direction": "horizontal", "symbolType": "circle", "symbolSize": 40, "symbolStrokeColor": "black", "symbolStrokeWidth": 1, "columnPadding": 72, "labelOffset": 9}}}}
    ]}
  ]
}
